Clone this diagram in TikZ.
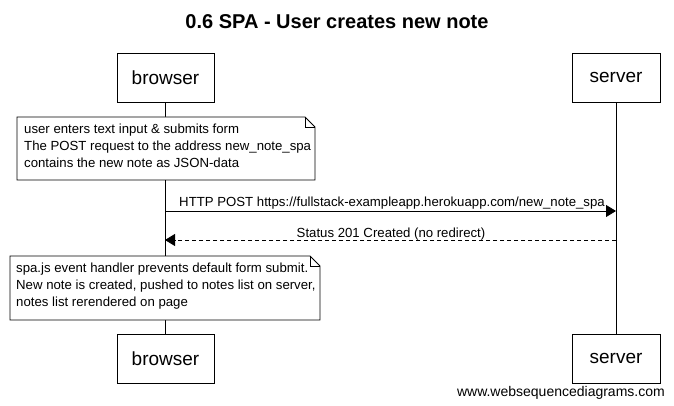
\documentclass[tikz,border=0pt]{standalone}
\usepackage{fontspec}
\setmainfont{Liberation Sans}
\usetikzlibrary{arrows.meta}
\begin{document}
\begin{tikzpicture}[x=1pt,y=-1pt,
  actor/.style={draw,line width=0.8pt,fill=white,minimum width=97pt,minimum height=49pt,inner sep=0pt,font=\fontsize{19}{22}\selectfont},
  notetext/.style={align=left,inner sep=0pt,anchor=north west,font=\fontsize{13.2}{17}\selectfont},
  msg/.style={line width=0.8pt,-{Triangle[length=10pt,width=12pt]}},
  lbl/.style={font=\fontsize{13.2}{15}\selectfont,inner sep=0pt,anchor=base}]
\useasboundingbox (0,0) rectangle (674,406);
% title
\node[font=\bfseries\fontsize{20}{23}\selectfont,anchor=base] (title) at (337,29) {0.6 SPA - User creates new note};
% lifelines
\draw[line width=0.8pt] (165,102) -- (165,335);
\draw[line width=0.8pt] (616,102) -- (616,335);
% actor boxes
\node[actor] (btop) at (165.5,77.5) {browser};
\node[actor,minimum width=88pt] (stop) at (616,77.5) {server};
\node[actor] (bbot) at (165.5,358.5) {browser};
\node[actor,minimum width=88pt] (sbot) at (616,358.5) {server};
% note 1
\draw[line width=0.8pt,fill=white] (17,117) -- (305,117) -- (315,127) -- (315,180) -- (17,180) -- cycle;
\draw[line width=0.6pt] (305,117) -- (305,127) -- (315,127);
\node[notetext] (n1) at (24,124) {user enters text input \& submits form\\The POST request to the address new\_note\_spa\\contains the new note as JSON-data};
% messages
\coordinate (m1a) at (165,211);
\coordinate (m1b) at (616,211);
\draw[msg] (m1a) -- (m1b);
\node[lbl] (l1) at (392,207) {HTTP POST https://fullstack-exampleapp.herokuapp.com/new\_note\_spa};
\coordinate (m2a) at (616,240);
\coordinate (m2b) at (165,240);
\draw[msg,dash pattern=on 4pt off 3pt] (m2a) -- (m2b);
\node[lbl] (l2) at (391,237) {Status 201 Created (no redirect)};
% note 2
\draw[line width=0.8pt,fill=white] (10,256) -- (310,256) -- (320,266) -- (320,320) -- (10,320) -- cycle;
\draw[line width=0.6pt] (310,256) -- (310,266) -- (320,266);
\node[notetext] (n2) at (16,263) {spa.js event handler prevents default form submit.\\New note is created, pushed to notes list on server,\\notes list rerendered on page};
% footer
\node[font=\fontsize{14}{16}\selectfont,anchor=base east,inner sep=0pt] (foot) at (665,396) {www.websequencediagrams.com};
\end{tikzpicture}
\end{document}
